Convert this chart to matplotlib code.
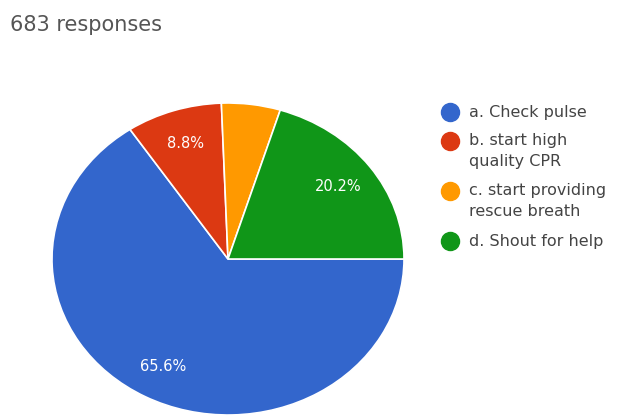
import matplotlib.pyplot as plt
from matplotlib.lines import Line2D

# answers to the question, share of the 683 responses (%)
labels = ['a. Check pulse', 'b. start high\nquality CPR',
          'c. start providing\nrescue breath', 'd. Shout for help']
shares = [65.6, 8.8, 5.4, 20.2]
colors = ['#3366CC', '#DC3912', '#FF9900', '#109618']
n_responses = 683

fig = plt.figure(figsize=(6.19, 4.16), dpi=100)
W, H = 619, 416

# pie is a bit squashed vertically, so place the axes in pixels
ax = fig.add_axes([52 / W, 1 / H, 352 / W, 312 / H])


def pct_label(p):
    # small slices get no label
    return '%.1f%%' % p if p >= 6 else ''


wedges, texts, autotexts = ax.pie(
    shares, colors=colors, startangle=0, counterclock=False,
    autopct=pct_label, pctdistance=0.78,
    wedgeprops=dict(edgecolor='white', linewidth=1.2),
    textprops=dict(color='white', fontsize=10.5, family='DejaVu Sans'))
ax.set_aspect('auto')
ax.set_xlim(-1, 1)
ax.set_ylim(-1, 1)
ax.axis('off')

fig.text(10 / W, 1 - 25 / H, '%d responses' % n_responses, fontsize=15,
         color='#555555', family='DejaVu Sans', va='center')

# legend drawn by hand: dot + one or two text lines per entry
y = 112
line_h = 21
for lab, c in zip(labels, colors):
    fig.add_artist(Line2D([450 / W], [1 - y / H], transform=fig.transFigure,
                          marker='o', markersize=13, linestyle='',
                          markerfacecolor=c, markeredgecolor=c))
    lines = lab.split('\n')
    for k, s in enumerate(lines):
        fig.text(469 / W, 1 - (y + k * line_h) / H, s, fontsize=11.5,
                 color='#444444', family='DejaVu Sans', va='center')
    y += len(lines) * line_h + 8

fig.savefig('out.png', dpi=100, facecolor='white')
